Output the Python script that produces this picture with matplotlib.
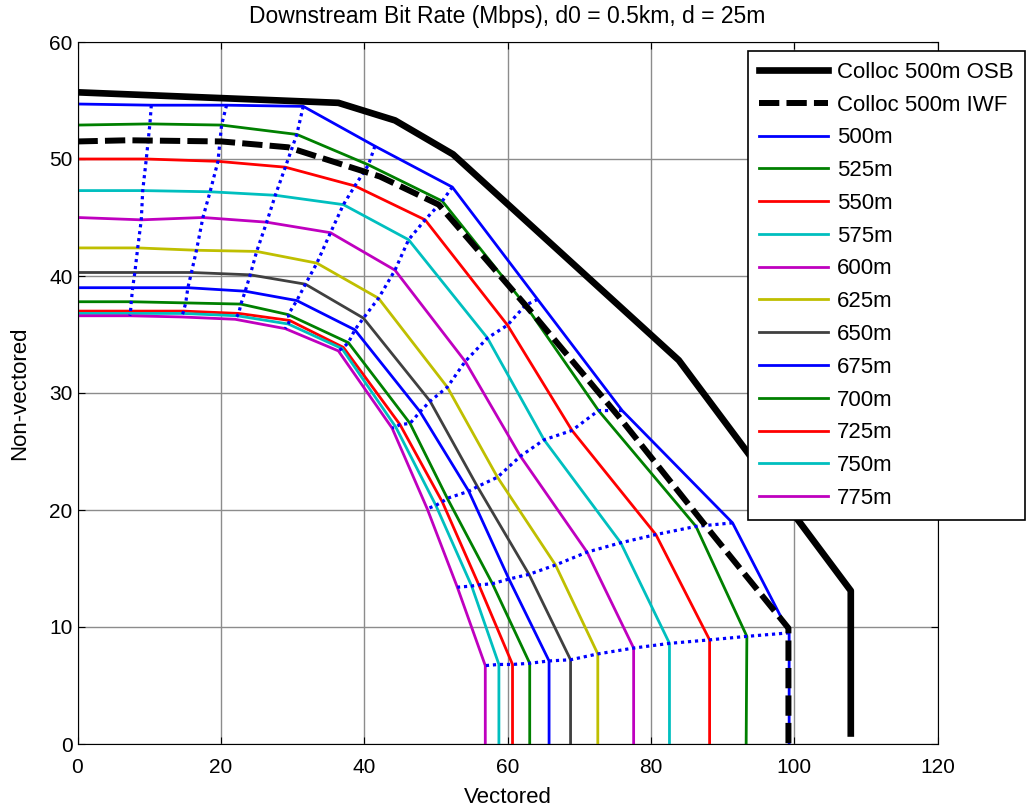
import matplotlib
matplotlib.use('Agg')
import matplotlib.pyplot as plt

plt.rcParams['font.family'] = ['Liberation Sans', 'DejaVu Sans']

# collocated reference curves
osb_x = [0, 36.4, 44.3, 52.4, 83.9, 107.9, 107.9]
osb_y = [55.7, 54.8, 53.3, 50.4, 32.8, 13.1, 0.9]
iwf_x = [0, 7.0, 20.1, 29.4, 42.2, 50.4, 63.5, 75.5, 88.5, 99.2, 99.2]
iwf_y = [51.5, 51.6, 51.5, 51.0, 48.5, 46.1, 36.8, 28.0, 18.0, 9.9, 0]

# rate regions per loop length
lengths = ['500m', '525m', '550m', '575m', '600m', '625m',
           '650m', '675m', '700m', '725m', '750m', '775m']
vectored = [
    [0, 10.3, 20.8, 31.5, 41.5, 52.3, 64.2, 76.0, 91.4, 99.3, 99.3],
    [0, 10.1, 20.1, 30.6, 40.6, 50.9, 62.5, 72.7, 86.3, 93.4, 93.3],
    [0, 9.6, 19.6, 29.0, 38.7, 48.5, 60.0, 69.0, 80.7, 88.2, 88.2],
    [0, 9.1, 18.5, 27.6, 37.1, 46.2, 57.2, 65.1, 75.8, 82.6, 82.6],
    [0, 8.9, 17.5, 26.4, 35.3, 44.3, 54.1, 61.8, 71.1, 77.6, 77.6],
    [0, 8.4, 16.6, 25.0, 33.4, 42.0, 51.6, 58.6, 66.7, 72.6, 72.6],
    [0, 8.0, 15.9, 24.1, 31.8, 39.9, 49.2, 55.8, 63.0, 68.8, 68.8],
    [0, 7.7, 15.4, 23.4, 30.6, 38.7, 47.8, 54.6, 60.2, 65.8, 65.8],
    [0, 7.5, 15.1, 22.8, 29.4, 37.8, 46.4, 51.6, 57.9, 63.1, 63.1],
    [0, 7.4, 14.8, 22.5, 29.6, 37.1, 45.0, 50.9, 56.0, 60.7, 60.7],
    [0, 7.4, 14.7, 22.3, 29.4, 36.9, 44.4, 50.0, 55.0, 58.8, 58.8],
    [0, 7.3, 14.5, 22.0, 29.0, 36.4, 43.9, 48.8, 53.0, 56.9, 56.9],
]
non_vectored = [
    [54.7, 54.6, 54.6, 54.5, 51.1, 47.6, 38.0, 28.5, 18.9, 9.5, 0],
    [52.9, 53.0, 52.9, 52.1, 49.5, 46.4, 37.5, 28.5, 18.6, 9.2, 0],
    [50.0, 50.0, 49.8, 49.3, 47.7, 44.8, 35.8, 26.8, 17.9, 8.9, 0],
    [47.3, 47.3, 47.2, 46.9, 46.1, 43.1, 34.7, 26.0, 17.2, 8.6, 0],
    [45.0, 44.8, 45.0, 44.6, 43.7, 40.5, 32.7, 24.6, 16.4, 8.2, 0],
    [42.4, 42.4, 42.2, 42.1, 41.1, 38.1, 30.5, 22.8, 15.3, 7.7, 0],
    [40.3, 40.3, 40.3, 40.1, 39.3, 36.4, 29.3, 22.0, 14.5, 7.2, 0],
    [39.0, 39.0, 39.0, 38.7, 37.9, 35.4, 28.4, 21.6, 14.1, 7.1, 0],
    [37.8, 37.8, 37.7, 37.6, 36.7, 34.3, 27.4, 21.0, 13.7, 6.9, 0],
    [37.0, 37.0, 37.0, 36.8, 36.2, 33.9, 27.3, 20.7, 13.6, 6.8, 0],
    [36.8, 36.8, 36.8, 36.6, 35.9, 33.8, 27.1, 20.4, 13.5, 6.8, 0],
    [36.6, 36.6, 36.5, 36.3, 35.5, 33.6, 27.0, 20.1, 13.4, 6.7, 0],
]

colors = [(0, 0, 1), (0, 0.5, 0), (1, 0, 0), (0, 0.75, 0.75),
          (0.75, 0, 0.75), (0.75, 0.75, 0), (0.25, 0.25, 0.25)]

fig = plt.figure(figsize=(10.27, 8.09), dpi=100)
ax = fig.add_axes([77.5 / 1027, 65 / 809, 860 / 1027, 702 / 809])

handles = []
for i, name in enumerate(lengths):
    h, = ax.plot(vectored[i], non_vectored[i], color=colors[i % 7], lw=2, zorder=2, label=name)
    handles.append(h)

# dotted lines joining matching points of the curves
for k in range(1, len(vectored[0]) - 1):
    ax.plot([row[k] for row in vectored], [row[k] for row in non_vectored],
            color='blue', lw=2.3, ls=(0, (1, 1.2)), zorder=3)

h_osb, = ax.plot(osb_x, osb_y, color='black', lw=4.8, zorder=4, label='Colloc 500m OSB')
h_iwf, = ax.plot(iwf_x, iwf_y, color='black', lw=4.3, ls=(0, (3.4, 1.2)), zorder=4,
                 label='Colloc 500m IWF')

ax.set_xlim(0, 120)
ax.set_ylim(0, 60)
ax.set_xticks(range(0, 121, 20))
ax.set_yticks(range(0, 61, 10))
ax.grid(True, color='#8c8c8c', lw=1)
ax.tick_params(direction='in', top=True, right=True, labelsize=15, length=5)
ax.tick_params(axis='x', pad=10)
ax.set_xlabel('Vectored', fontsize=16, labelpad=7)
ax.set_ylabel('Non-vectored', fontsize=16, labelpad=14)
ax.set_title('Downstream Bit Rate (Mbps), d0 = 0.5km, d = 25m', fontsize=16.5, pad=14)

leg = fig.legend(handles=[h_osb, h_iwf] + handles, loc='upper left',
                 bbox_to_anchor=(748 / 1027, 1 - 50.7 / 809), borderaxespad=0,
                 fontsize=16, handlelength=3.1, handletextpad=0.4,
                 labelspacing=0.53, borderpad=0.5, fancybox=False, framealpha=1)
leg.get_frame().set_edgecolor('black')
leg.get_frame().set_linewidth(1.2)

fig.savefig('out.png', dpi=100)
